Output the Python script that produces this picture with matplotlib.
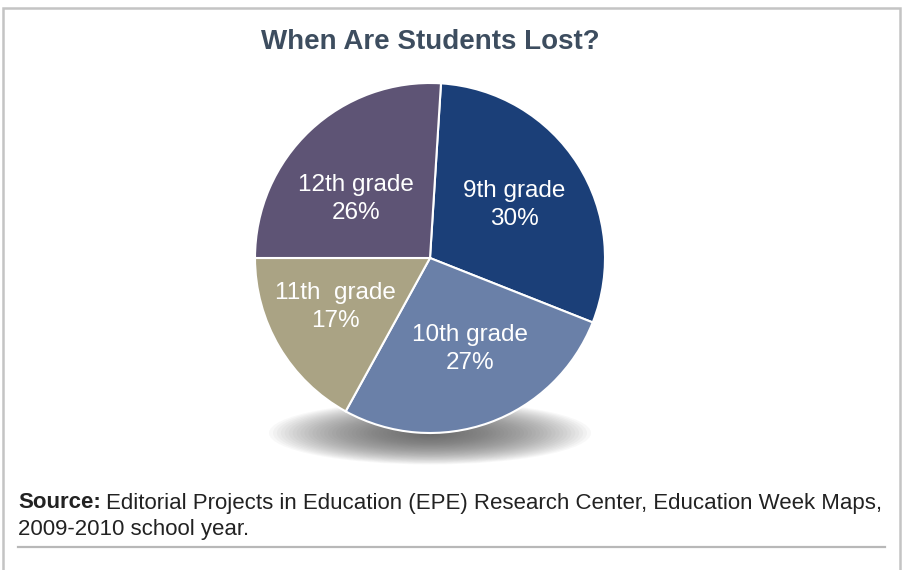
import numpy as np
import matplotlib.pyplot as plt
from matplotlib.patches import Ellipse, Rectangle
from matplotlib.lines import Line2D

# данные
grades = ['9th grade', '10th grade', '11th  grade', '12th grade']
shares = [30, 27, 17, 26]
colors = ['#1b3f78', '#6a80a8', '#aaa384', '#5e5475']
# положение подписей: смещение по углу (град.) и расстояние от центра
label_shift = [0, 4, -3, 8]
label_dist = [0.57, 0.57, 0.61, 0.54]

plt.rcParams['font.family'] = ['Liberation Sans', 'DejaVu Sans']

fig = plt.figure(figsize=(9.06, 5.70), dpi=100)
fig.patch.set_facecolor('white')

# рамка
fig.add_artist(Rectangle((3 / 906, -0.05), 897 / 906, 1.05 - 8 / 570,
                         transform=fig.transFigure, fill=False,
                         edgecolor='#c4c4c4', linewidth=1.8))
# линия под подписью
fig.add_artist(Line2D([18 / 906, 885 / 906], [1 - 547 / 570, 1 - 547 / 570],
                      transform=fig.transFigure, color='#b8b8b8', linewidth=1.6))

# оси для пирога: центр (430, 258), радиус 175 px
cx, cy, r = 430, 258, 175
ax = fig.add_axes([(cx - r) / 906, 1 - (cy + r) / 570, 2 * r / 906, 2 * r / 570])

# тень под пирогом
for i in range(40):
    k = 1 - i / 40
    ax.add_patch(Ellipse((0, -1.0), 1.80 * k + 0.04, 0.34 * k + 0.02,
                         facecolor='#555555', edgecolor='none',
                         alpha=0.04, zorder=0, clip_on=False))

wedges, _ = ax.pie(shares, colors=colors, startangle=86.4, counterclock=False,
                   radius=1, wedgeprops=dict(edgecolor='white', linewidth=1.5),
                   frame=True)
ax.set_xlim(-1, 1)
ax.set_ylim(-1, 1)
ax.set_aspect('equal')
ax.axis('off')

for w, name, val, da, d in zip(wedges, grades, shares, label_shift, label_dist):
    ang = np.deg2rad((w.theta1 + w.theta2) / 2 + da)
    ax.text(d * np.cos(ang), d * np.sin(ang), f'{name}\n{val}%',
            ha='center', va='center', color='white', fontsize=17.5,
            linespacing=1.35, zorder=5)

fig.text(430 / 906, 1 - 42 / 570, 'When Are Students Lost?', ha='center',
         va='center', fontsize=20, fontweight='bold', color='#3d4d5f')

src_y = 1 - 503 / 570
t = fig.text(18 / 906, src_y, 'Source:', ha='left', va='center',
             fontsize=16, fontweight='bold', color='#222222')
fig.canvas.draw()
bb = t.get_window_extent()
fig.text(bb.x1 / 906 + 5 / 906, src_y,
         'Editorial Projects in Education (EPE) Research Center, Education Week Maps,',
         ha='left', va='center', fontsize=16, color='#222222')
fig.text(18 / 906, 1 - 530 / 570, '2009-2010 school year.', ha='left',
         va='center', fontsize=16, color='#222222')

fig.savefig('out.png', dpi=100)
